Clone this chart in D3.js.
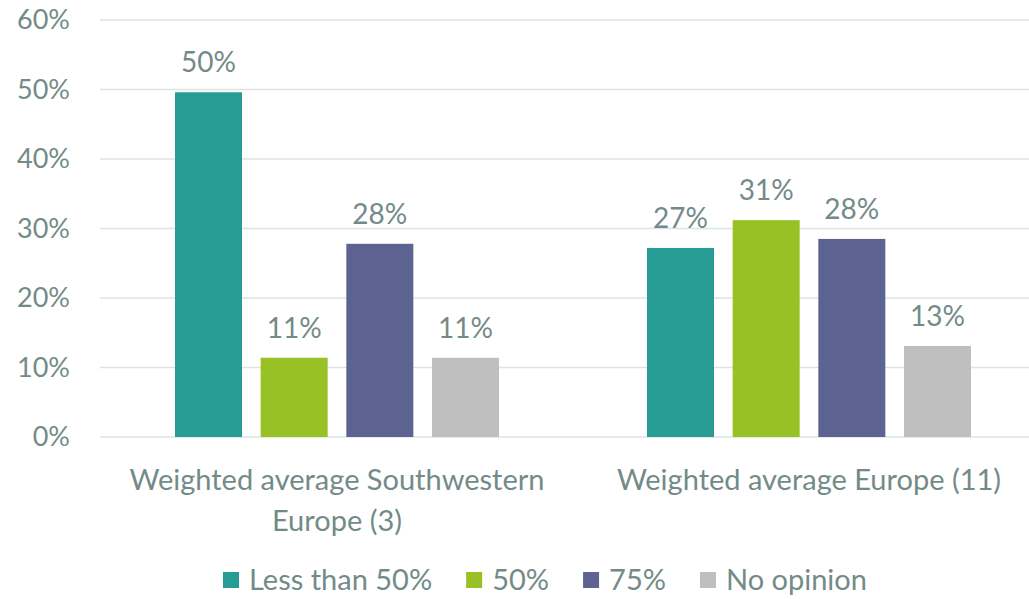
<!DOCTYPE html>
<html>
<head>
<meta charset="utf-8">
<script src="https://cdn.jsdelivr.net/npm/d3@7"></script>
<style>
  body { margin: 0; background: #fff; }
  text { font-family: Lato, "Open Sans", sans-serif; fill: #738b88; }
</style>
</head>
<body>
<svg id="chart" width="1029" height="599"></svg>
<script>
var categories = [
    ['Weighted average Southwestern', 'Europe (3)'],
    ['Weighted average Europe (11)']
];
var seriesNames = ['Less than 50%', '50%', '75%', 'No opinion'];
var seriesColors = ['#279c94', '#97c125', '#5d6391', '#bfbfbf'];
// one array per series, one value per category
var lessThan50 = [0.496, 0.272];
var fifty = [0.114, 0.312];
var seventyFive = [0.278, 0.285];
var noOpinion = [0.114, 0.131];
var valueLabels = [['50%', '27%'], ['11%', '31%'], ['28%', '28%'], ['11%', '13%']];
var yTicks = [0, 0.1, 0.2, 0.3, 0.4, 0.5, 0.6];

var seriesValues = [lessThan50, fifty, seventyFive, noOpinion];

var svg = d3.select('#chart');
var margin = { left: 101, right: -16, top: 20, bottom: 162 };
var width = 1029, height = 599;

var x0 = d3.scaleBand()
    .domain(d3.range(categories.length))
    .range([margin.left, width - margin.right]);

var x1 = d3.scaleBand()
    .domain(d3.range(seriesNames.length))
    .range([0, x0.bandwidth()])
    .paddingInner(0.218)
    .paddingOuter(0.864);

var y = d3.scaleLinear()
    .domain([0, 0.6])
    .range([height - margin.bottom, margin.top]);

// gridlines
svg.append('g')
    .selectAll('line')
    .data(yTicks)
    .enter().append('line')
    .attr('x1', 100).attr('x2', width)
    .attr('y1', function(d) { return y(d); })
    .attr('y2', function(d) { return y(d); })
    .attr('stroke', '#dde3e3')
    .attr('stroke-width', 1.5);

// y axis labels
var yAxis = d3.axisLeft(y)
    .tickValues(yTicks)
    .tickFormat(d3.format('.0%'))
    .tickSize(0)
    .tickPadding(0);
var yg = svg.append('g')
    .attr('transform', 'translate(70,0)')
    .call(yAxis);
yg.select('.domain').remove();
yg.selectAll('text')
    .attr('font-size', 27)
    .attr('font-family', null)
    .style('fill', '#738b88');

// bars
var groups = svg.append('g')
    .selectAll('g')
    .data(categories)
    .enter().append('g')
    .attr('transform', function(d, i) { return 'translate(' + x0(i) + ',0)'; });

groups.each(function(cat, ci) {
    var g = d3.select(this);
    var rows = seriesValues.map(function(vals, si) {
        return { s: si, v: vals[ci], label: valueLabels[si][ci] };
    });
    g.selectAll('rect')
        .data(rows)
        .enter().append('rect')
        .attr('x', function(d) { return x1(d.s); })
        .attr('width', x1.bandwidth())
        .attr('y', function(d) { return y(d.v); })
        .attr('height', function(d) { return y(0) - y(d.v); })
        .attr('fill', function(d) { return seriesColors[d.s]; });
    g.selectAll('text.val')
        .data(rows)
        .enter().append('text')
        .attr('class', 'val')
        .attr('x', function(d) { return x1(d.s) + x1.bandwidth() / 2; })
        .attr('y', function(d) { return y(d.v) - 20; })
        .attr('text-anchor', 'middle')
        .attr('font-size', 28)
        .text(function(d) { return d.label; });
});

// category labels
groups.each(function(cat) {
    var t = d3.select(this).append('text')
        .attr('text-anchor', 'middle')
        .attr('font-size', 29)
        .attr('y', 490);
    t.selectAll('tspan')
        .data(cat)
        .enter().append('tspan')
        .attr('x', x0.bandwidth() / 2)
        .attr('dy', function(d, i) { return i === 0 ? 0 : 41; })
        .text(function(d) { return d; });
});

// legend
var legend = svg.append('g').attr('transform', 'translate(223,0)');
var lx = 0;
seriesNames.forEach(function(name, i) {
    var item = legend.append('g').attr('transform', 'translate(' + lx + ',0)');
    item.append('rect')
        .attr('x', 0).attr('y', 572)
        .attr('width', 16).attr('height', 16)
        .attr('fill', seriesColors[i]);
    var t = item.append('text')
        .attr('x', 26).attr('y', 590)
        .attr('font-size', 29)
        .text(name);
    lx += 26 + t.node().getComputedTextLength() + 34;
});
</script>
</body>
</html>
